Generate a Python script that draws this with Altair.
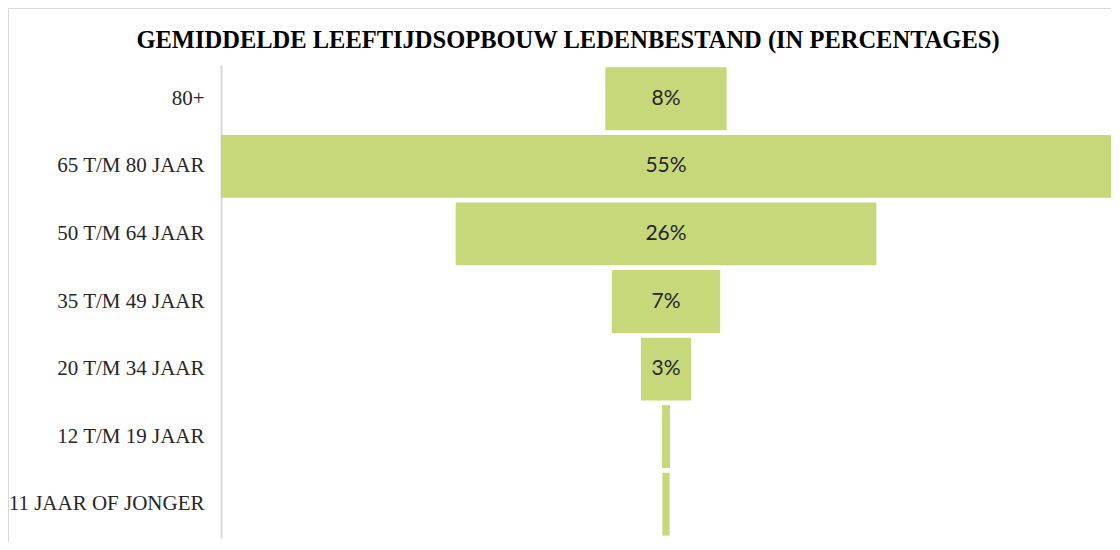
import altair as alt
import pandas as pd

categories = ["80+", "65 T/M 80 JAAR", "50 T/M 64 JAAR", "35 T/M 49 JAAR",
              "20 T/M 34 JAAR", "12 T/M 19 JAAR", "11 JAAR OF JONGER"]
values = [7.5, 55.0, 26.0, 6.7, 3.1, 0.5, 0.45]
labels = ["8%", "55%", "26%", "7%", "3%", "", ""]
title_text = "GEMIDDELDE LEEFTIJDSOPBOUW LEDENBESTAND (IN PERCENTAGES)"

df = pd.DataFrame({"cat": categories, "val": values, "label": labels})

W = 890
H = 473
PL = 213
PT = 57

xscale = alt.Scale(domain=[-27.5, 27.5], nice=False, zero=False)
yscale = alt.Scale(domain=categories, paddingInner=0.07, paddingOuter=0.035)

base = alt.Chart(df).transform_calculate(
    lo="-datum.val/2", hi="datum.val/2", mid="0"
)

bars = base.mark_bar(color="#C6D879").encode(
    y=alt.Y("cat:N", scale=yscale, sort=categories,
            axis=alt.Axis(title=None, ticks=False, domainColor="#D9D9D9",
                          domainWidth=2, labelFont="Liberation Serif",
                          labelFontSize=21, labelColor="#262626",
                          labelPadding=17, labelLimit=300)),
    x=alt.X("lo:Q", scale=xscale, axis=None),
    x2="hi:Q",
)

text = base.mark_text(font="Lato", fontSize=21, color="#262626",
                      baseline="middle").encode(
    y=alt.Y("cat:N", scale=yscale, sort=categories),
    x=alt.X("mid:Q", scale=xscale, axis=None),
    text="label:N",
)

frame_df = pd.DataFrame({"t": [title_text]})
top_line = alt.Chart(frame_df).mark_rule(color="#D9D9D9", strokeWidth=1).encode(
    x=alt.value(-PL + 1), x2=alt.value(W), y=alt.value(-PT + 0.5)
)
left_line = alt.Chart(frame_df).mark_rule(color="#D9D9D9", strokeWidth=1).encode(
    x=alt.value(-PL + 0.5), y=alt.value(-PT), y2=alt.value(H + 4)
)
title = alt.Chart(frame_df).mark_text(
    font="Liberation Serif", fontSize=24.5, fontWeight="bold", color="#000000",
    align="center", baseline="alphabetic"
).encode(
    x=alt.value(347), y=alt.value(-17), text="t:N"
)

chart = alt.layer(top_line, left_line, bars, text, title).properties(
    width=W, height=H,
    background="#FFFFFF",
    autosize=alt.AutoSizeParams(type="none"),
    padding={"left": PL, "top": PT, "right": 0, "bottom": 4},
).configure_view(strokeWidth=0, stroke="transparent")

chart.save("out.html", embed_options={"renderer": "svg", "actions": False})
